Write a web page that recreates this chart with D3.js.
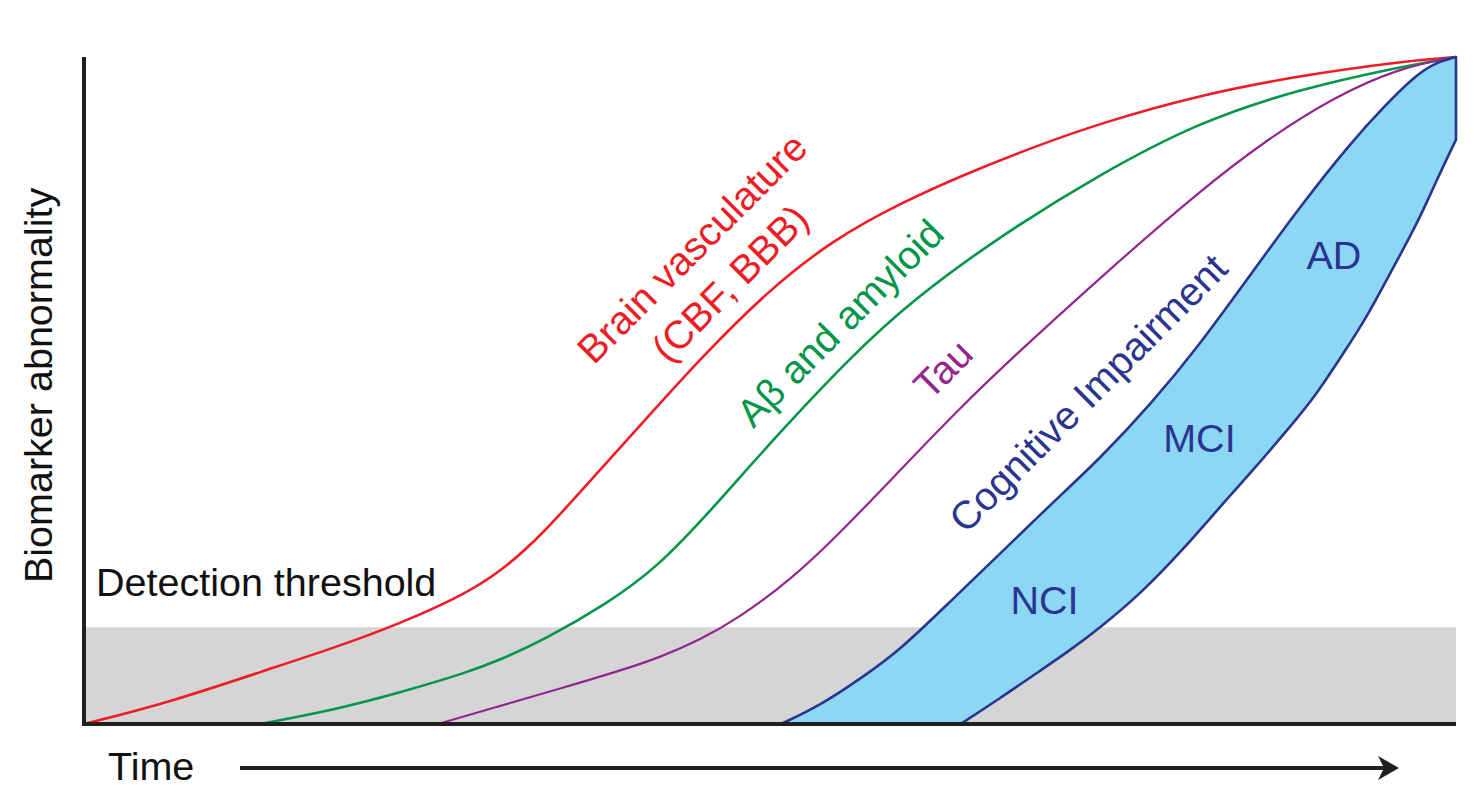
<!DOCTYPE html>
<html><head><meta charset="utf-8">
<script src="https://cdn.jsdelivr.net/npm/d3@7"></script>
<style>
html,body{margin:0;padding:0;background:#fff;}
svg{display:block;font-family:"Liberation Sans",Arial,sans-serif;}
</style></head>
<body>
<svg id="chart" width="1484" height="811"></svg>
<script>
// ---- data (time 0-100, biomarker abnormality 0-100) ----
const threshold = 14.5;
const vasculature = [[0,0],[6.0,3.1],[13.3,8.1],[18.2,11.4],[23.0,15.0],[27.9,19.6],[30.3,22.8],[33.2,27.9],[37.6,38.1],[42.0,48.1],[44.9,54.7],[49.8,64.9],[54.6,72.6],[59.5,78.1],[64.4,82.6],[69.2,86.5],[74.1,90.1],[81.3,94.3],[88.6,97.2],[95.9,99.3],[100,100]];
const amyloid = [[12.8,0],[18.2,2.1],[23.0,4.7],[27.9,7.7],[30.3,9.6],[33.5,12.6],[38.1,18.0],[41.8,23.5],[45.6,31.8],[50.2,42.6],[55.8,54.9],[60.4,63.6],[66.8,73.2],[74.1,82.5],[81.3,90.3],[88.6,95.2],[95.9,98.5],[100,100]];
const tau = [[25.8,0],[30.3,2.7],[34.7,5.3],[39.1,8.0],[42.0,10.0],[44.9,12.6],[47.8,16.0],[51.5,21.6],[55.1,28.6],[59.5,38.1],[63.9,47.5],[67.5,54.6],[74.1,67.0],[81.3,79.9],[86.2,87.6],[91.0,93.9],[95.9,98.4],[100,100]];
const cogUpper = [[50.8,0],[53.6,2.7],[56.6,6.8],[59.5,11.1],[63.1,18.3],[66.8,25.6],[70.4,32.8],[74.1,39.9],[77.7,47.8],[81.3,56.8],[85.0,67.3],[88.6,77.5],[92.3,87.1],[95.0,93.1],[96.9,96.9],[98.3,99.0],[100,100]];
const cogLower = [[63.9,0],[66.8,3.9],[69.7,8.0],[71.9,11.1],[74.1,14.5],[77.0,19.5],[80.1,26.1],[83.5,34.2],[85.0,37.6],[87.9,44.5],[89.9,49.6],[91.8,55.6],[93.5,61.0],[95.2,67.6],[97.2,75.1],[98.6,81.6],[100,87.6]];
const stageLabels = ["NCI","MCI","AD"];
const stagePos = [[70.0,18.6],[81.3,42.9],[91.1,70.3]];

const colors = {red:"#ee1d25", green:"#03954a", purple:"#93278f", navy:"#2b3590", fill:"#8bd7f4", band:"#d5d5d5", axis:"#231f20"};

const svg = d3.select("#chart");
const x = d3.scaleLinear().domain([0,100]).range([84,1456]);
const y = d3.scaleLinear().domain([0,100]).range([724,57]);
const line = d3.line().x(d=>x(d[0])).y(d=>y(d[1])).curve(d3.curveBasis);

// detection threshold band
svg.append("rect").attr("x",x(0)).attr("y",y(threshold)).attr("width",x(100)-x(0)).attr("height",y(0)-y(threshold)).attr("fill",colors.band);

// biomarker curves
[[vasculature,colors.red,2.6],[amyloid,colors.green,2.6],[tau,colors.purple,2.2]].forEach(([d,c,w])=>{
  svg.append("path").attr("d",line(d)).attr("fill","none").attr("stroke",c).attr("stroke-width",w);
});

// cognitive impairment band
const lowerRev = cogLower.slice().reverse();
const bandPath = line(cogUpper) + line(lowerRev).replace(/^M/,"L") + "Z";
svg.append("path").attr("d",bandPath).attr("fill",colors.fill).attr("stroke",colors.navy).attr("stroke-width",2.6).attr("stroke-linejoin","round");

// axes
svg.append("line").attr("x1",x(0)).attr("x2",x(0)).attr("y1",y(100)).attr("y2",y(0)+2).attr("stroke",colors.axis).attr("stroke-width",4);
svg.append("line").attr("x1",x(0)-2).attr("x2",x(100)).attr("y1",y(0)).attr("y2",y(0)).attr("stroke",colors.axis).attr("stroke-width",4);

// labels
const fs = 39.5;
svg.append("text").attr("x",52).attr("y",583).attr("transform","rotate(-90,52,583)").attr("font-size",fs).attr("fill","#111").text("Biomarker abnormality");
svg.append("text").attr("x",96).attr("y",596).attr("font-size",fs).attr("fill","#111").text("Detection threshold");
svg.append("text").attr("x",108).attr("y",780).attr("font-size",fs).attr("fill","#111").text("Time");

// time arrow
svg.append("line").attr("x1",240).attr("x2",1385).attr("y1",768).attr("y2",768).attr("stroke",colors.axis).attr("stroke-width",4);
svg.append("path").attr("d","M1399,768 L1378,756 L1384,768 L1378,780 Z").attr("fill",colors.axis);

// rotated curve labels
const rot = [
  ["Brain vasculature",692,248,colors.red],
  ["(CBF, BBB)",730,283,colors.red],
  ["A\u03B2 and amyloid",840,323,colors.green],
  ["Tau",943,369,colors.purple],
  ["Cognitive Impairment",1088,393,colors.navy]
];
rot.forEach(([t,cx,cy,c])=>{
  svg.append("text").attr("x",cx).attr("y",cy).attr("dy","0.35em").attr("text-anchor","middle")
    .attr("transform",`rotate(-45,${cx},${cy})`).attr("font-size",fs).attr("fill",c).text(t);
});
stageLabels.forEach((t,i)=>{
  svg.append("text").attr("x",x(stagePos[i][0])).attr("y",y(stagePos[i][1])).attr("dy","0.35em").attr("text-anchor","middle")
    .attr("font-size",fs).attr("fill",colors.navy).text(t);
});
</script>
</body></html>
